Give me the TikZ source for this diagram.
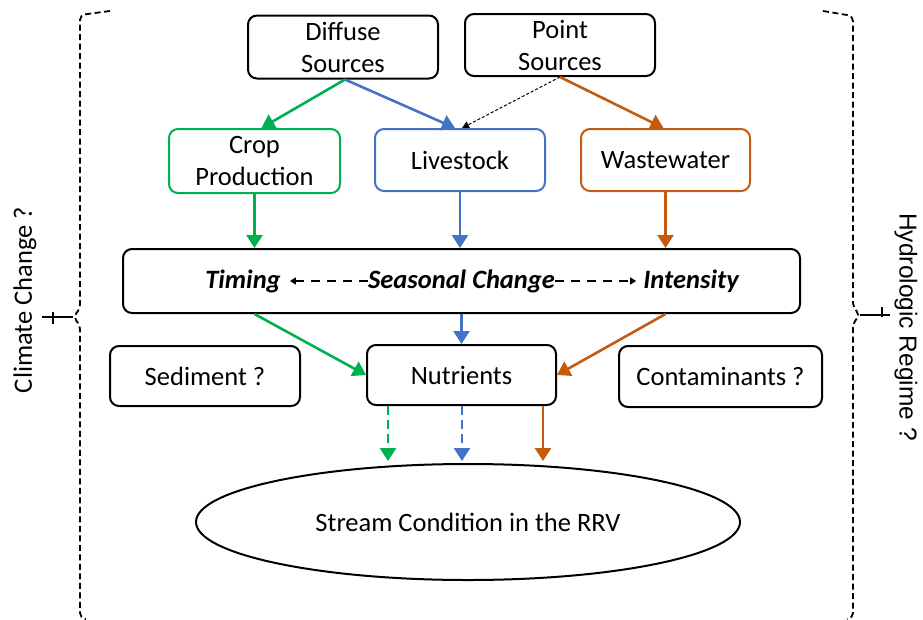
\documentclass[tikz,border=0pt]{standalone}
\usepackage{fontspec}
\setmainfont{Carlito}
\newfontfamily\arialfont{Liberation Sans}
\usetikzlibrary{arrows.meta,shapes.geometric,calc}
\definecolor{cgreen}{HTML}{00B050}
\definecolor{cblue}{HTML}{4472C4}
\definecolor{corange}{HTML}{C55A11}
\begin{document}
\begin{tikzpicture}[x=1pt,y=-1pt,
  txt/.style={font=\fontsize{26.5}{32}\selectfont},
  box/.style={txt, draw, line width=2pt, rounded corners=9pt, align=center, inner sep=0pt},
  flow/.style={line width=2.6pt, -{Triangle[width=16pt,length=13pt]}},
  dflow/.style={flow, dash pattern=on 9pt off 5pt},
  thin dash/.style={line width=1pt, dash pattern=on 3pt off 2pt, -{Triangle[width=7pt,length=7pt]}},
  seas/.style={line width=1.4pt, dash pattern=on 9pt off 7pt, -{Triangle[width=7pt,length=6pt]}},
  bi/.style={font=\fontsize{26.5}{32}\selectfont\bfseries\itshape, inner sep=0pt},
  brace/.style={line width=1.8pt, dash pattern=on 6pt off 3.5pt, rounded corners=5pt},
  tip/.style={line width=1.6pt}]
\useasboundingbox (0,0) rectangle (923,619);

% sources
\node[box, minimum width=190pt, minimum height=63pt] (diffuse) at (343,47) {Diffuse\\Sources};
\node[box, minimum width=190pt, minimum height=62pt] (point) at (560,45) {Point\\Sources};

% source sectors
\node[box, draw=cgreen, minimum width=171pt, minimum height=64pt] (crop) at (254.5,161) {Crop\\Production};
\node[box, draw=cblue, minimum width=170pt, minimum height=62pt] (live) at (460,160) {Livestock};
\node[box, draw=corange, minimum width=169pt, minimum height=62pt] (waste) at (665.5,160) {Wastewater};

% seasonal change band
\node[box, minimum width=677pt, minimum height=64pt] (season) at (461.5,281) {};
\node[bi] (timing) at (243,281) {Timing};
\node[bi] (seastxt) at (461.5,281) {Seasonal Change};
\node[bi] (intens) at (691,281) {Intensity};
\draw[seas, shorten >=9pt] (seastxt.west) -- (timing.east);
\draw[seas, shorten >=7pt] (seastxt.east) -- (intens.west);

% constituents
\node[box, minimum width=190pt, minimum height=60pt] (sed) at (205,376) {Sediment ?};
\node[box, minimum width=189pt, minimum height=60pt] (nut) at (461.5,375) {Nutrients};
\node[box, minimum width=203pt, minimum height=61pt] (cont) at (720.5,376.5) {Contaminants ?};

% receiving stream
\node[txt, draw, line width=2pt, ellipse, inner sep=0pt, minimum width=544pt, minimum height=116pt] (stream) at (468,522) {Stream Condition in the RRV};

% connectors from the sources
\draw[flow, cgreen] ($(diffuse.south)+(2,0)$) -- ($(crop.north)+(7,0)$);
\draw[flow, cblue] ($(diffuse.south)+(2,0)$) -- ($(live.north)+(-5,0)$);
\draw[thin dash] (point.south) -- ($(live.north)+(2,0)$);
\draw[flow, corange] (point.south) -- ($(waste.north)+(-2,0)$);

% sectors into the seasonal band
\draw[flow, cgreen] (crop.south) -- (crop.south |- season.north);
\draw[flow, cblue] (live.south) -- (live.south |- season.north);
\draw[flow, corange] (waste.south) -- (waste.south |- season.north);

% seasonal band into nutrients
\draw[flow, cgreen] (season.south -| crop.south) -- (nut.west);
\draw[flow, cblue] (season.south -| nut.north) -- (nut.north);
\draw[flow, corange] (season.south -| waste.south) -- (nut.east);

% nutrients into the stream
\coordinate (g1) at (388,461);
\coordinate (b1) at (462,461);
\coordinate (o1) at (543,461);
\draw[dflow, cgreen] (nut.south -| g1) -- (g1);
\draw[dflow, cblue] (nut.south -| b1) -- (b1);
\draw[flow, corange] (nut.south -| o1) -- (o1);

% side braces
\draw[brace] (110,11) -- (80,15) -- (80,309) -- (73,317) -- (80,325) -- (80,618) -- (86,619);
\draw[tip] (42,317) -- (73,317);
\draw[tip] (53,312) -- (53,324);
\draw[brace] (823,11) -- (853,16) -- (853,307) -- (860,315) -- (853,323) -- (853,618) -- (847,619);
\draw[tip] (860,315) -- (890,315);
\draw[tip] (882,307) -- (882,317);

\node[txt, rotate=90] (climate) at (25,300) {Climate Change ?};
\node[rotate=-90, font=\arialfont\fontsize{24.5}{28}\selectfont] (hydro) at (906,327) {Hydrologic Regime ?};
\end{tikzpicture}
\end{document}
